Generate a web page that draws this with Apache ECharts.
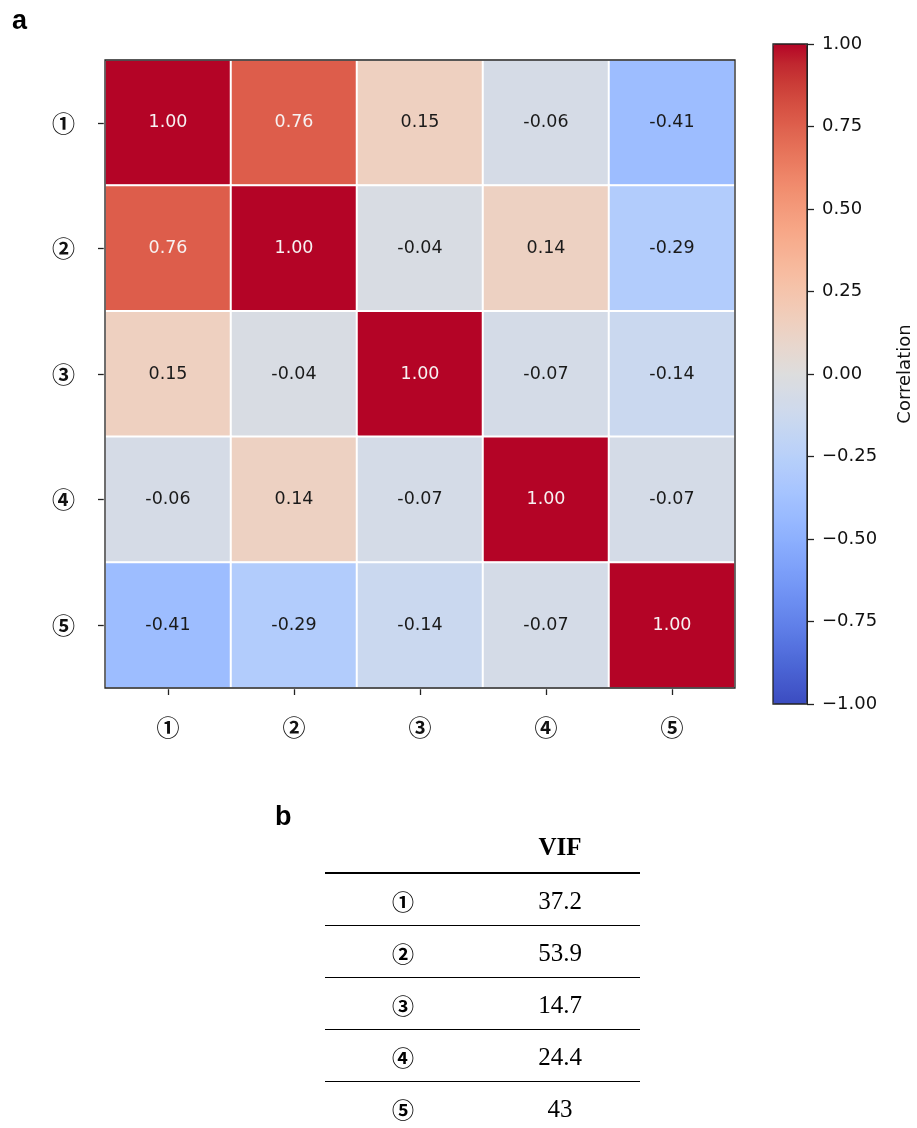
<!DOCTYPE html>
<html>
<head>
<meta charset="utf-8">
<script src="https://cdn.jsdelivr.net/npm/echarts@6/dist/echarts.min.js"></script>
<style>
html,body{margin:0;padding:0;background:#fff;}
#chart{width:917px;height:1128px;}
</style>
</head>
<body>
<div id="chart"></div>
<script>
// ---- data ----
const categories = ['①', '②', '③', '④', '⑤'];
const corrRow1 = [1.00, 0.76, 0.15, -0.06, -0.41];
const corrRow2 = [0.76, 1.00, -0.04, 0.14, -0.29];
const corrRow3 = [0.15, -0.04, 1.00, -0.07, -0.14];
const corrRow4 = [-0.06, 0.14, -0.07, 1.00, -0.07];
const corrRow5 = [-0.41, -0.29, -0.14, -0.07, 1.00];
const colorbarMin = -1, colorbarMax = 1, colorbarStep = 0.25;
const vifHeader = 'VIF';
const vifLabels = ['①', '②', '③', '④', '⑤'];
const vifValues = ['37.2', '53.9', '14.7', '24.4', '43'];

// ---- layout / style ----
const G = {left: 105, top: 60, width: 630, height: 628};
const CB = {left: 773, top: 44, width: 34, height: 660};
const T = {x0: 325, x1: 640, headerY: 849, topRule: 873, rowH: 52, labelX: 403, valueX: 560};
const coolwarm = ['#3b4cc0','#445acc','#4d68d7','#5775e1','#6282ea','#6c8ef1','#779af7','#82a5fb','#8db0fe','#98b9ff','#a3c2ff','#aec9fd','#b8d0f9','#c2d5f4','#ccd9ee','#d5dbe6','#dddddd','#e5d8d1','#ecd3c5','#f1ccb8','#f5c4ac','#f7bb9f','#f7b193','#f7a686','#f49a7b','#f18d6f','#ec7f63','#e57058','#de604d','#d55042','#cb3e38','#c0282f','#b40426'];

const rows = [corrRow1, corrRow2, corrRow3, corrRow4, corrRow5];
const heatData = [];
rows.forEach((row, yi) => row.forEach((v, xi) => {
  heatData.push({
    value: [xi, yi, v],
    label: {color: Math.abs(v) > 0.6 ? '#f7f2f2' : '#1a1a1a'}
  });
}));

const catFont = {fontFamily: '"Noto Sans CJK KR", "Noto Sans CJK SC", sans-serif', fontSize: 23, color: '#111', fontWeight: 'bold'};
const tickStyle = {color: '#222', width: 1.3};

// table graphic
const graphic = [
  {type: 'text', left: 12, top: 8, style: {text: 'a', font: 'bold 27px "Liberation Sans", Arial, sans-serif', fill: '#000'}},
  {type: 'text', left: 275, top: 804, style: {text: 'b', font: 'bold 27px "Liberation Sans", Arial, sans-serif', fill: '#000'}},
  {type: 'rect', z: 100, shape: {x: G.left, y: G.top, width: G.width, height: G.height}, style: {fill: 'none', stroke: '#222', lineWidth: 1.3}},
  {type: 'rect', z: 100, shape: {x: CB.left, y: CB.top, width: CB.width, height: CB.height}, style: {fill: 'none', stroke: '#222', lineWidth: 1.3}},
  {type: 'text', x: T.valueX, y: T.headerY, style: {text: vifHeader, font: 'bold 25px "Liberation Serif", "Times New Roman", serif', fill: '#000', textAlign: 'center', textVerticalAlign: 'middle'}},
  {type: 'line', shape: {x1: T.x0, y1: T.topRule, x2: T.x1, y2: T.topRule}, style: {stroke: '#000', lineWidth: 2}}
];
vifLabels.forEach((lab, i) => {
  const cy = T.topRule + T.rowH * i + 29;
  graphic.push({type: 'text', x: T.labelX, y: cy, style: {text: lab, font: 'bold 22px "Noto Sans CJK KR", "Noto Sans CJK SC", sans-serif', fill: '#000', textAlign: 'center', textVerticalAlign: 'middle'}});
  graphic.push({type: 'text', x: T.valueX, y: cy, style: {text: vifValues[i], font: '25px "Liberation Serif", "Times New Roman", serif', fill: '#000', textAlign: 'center', textVerticalAlign: 'middle'}});
  if (i < vifLabels.length - 1) {
    const ly = T.topRule + T.rowH * (i + 1) + 0.5;
    graphic.push({type: 'line', shape: {x1: T.x0, y1: ly, x2: T.x1, y2: ly}, style: {stroke: '#000', lineWidth: 1}});
  }
});

const chart = echarts.init(document.getElementById('chart'), null, {renderer: 'canvas'});
chart.setOption({
  backgroundColor: '#fff',
  animation: false,
  grid: [
    {left: G.left, top: G.top, width: G.width, height: G.height, containLabel: false},
    {left: CB.left, top: CB.top, width: CB.width, height: CB.height, containLabel: false}
  ],
  xAxis: [
    {type: 'category', gridIndex: 0, data: categories, position: 'bottom',
     axisLine: {show: true, lineStyle: {color: '#222'}},
     axisTick: {show: true, alignWithLabel: true, length: 7, lineStyle: tickStyle},
     axisLabel: Object.assign({margin: 28}, catFont),
     splitLine: {show: false}},
    {type: 'value', gridIndex: 1, show: false, min: 0, max: 1}
  ],
  yAxis: [
    {type: 'category', gridIndex: 0, data: categories, inverse: true,
     axisLine: {show: true, lineStyle: {color: '#222'}},
     axisTick: {show: true, alignWithLabel: true, length: 7, lineStyle: tickStyle},
     axisLabel: Object.assign({margin: 30}, catFont),
     splitLine: {show: false}},
    {type: 'value', gridIndex: 1, position: 'right', min: colorbarMin, max: colorbarMax, interval: colorbarStep,
     axisLine: {show: true, onZero: false, lineStyle: {color: '#222'}},
     axisTick: {show: true, length: 7, inside: false, lineStyle: tickStyle},
     axisLabel: {margin: 15, fontFamily: '"DejaVu Sans", sans-serif', fontSize: 18, color: '#111',
       formatter: v => (v < 0 ? '\u2212' : '') + Math.abs(v).toFixed(2)},
     splitLine: {show: false},
     name: 'Correlation', nameLocation: 'middle', nameRotate: 90, nameGap: 89,
     nameTextStyle: {fontFamily: '"DejaVu Sans", sans-serif', fontSize: 18, color: '#111'}}
  ],
  visualMap: {
    type: 'continuous', min: colorbarMin, max: colorbarMax, seriesIndex: 0,
    orient: 'vertical', left: CB.left, top: CB.top, itemWidth: CB.width, itemHeight: CB.height,
    padding: 0, calculable: false, text: ['', ''], textGap: 0,
    inRange: {color: coolwarm}
  },
  graphic: graphic,
  series: [{
    type: 'heatmap', xAxisIndex: 0, yAxisIndex: 0, data: heatData,
    itemStyle: {borderColor: '#fff', borderWidth: 2},
    label: {show: true, fontFamily: '"DejaVu Sans", sans-serif', fontSize: 17.5,
      formatter: p => p.value[2].toFixed(2)},
    emphasis: {disabled: true}
  }]
});
</script>
</body>
</html>
